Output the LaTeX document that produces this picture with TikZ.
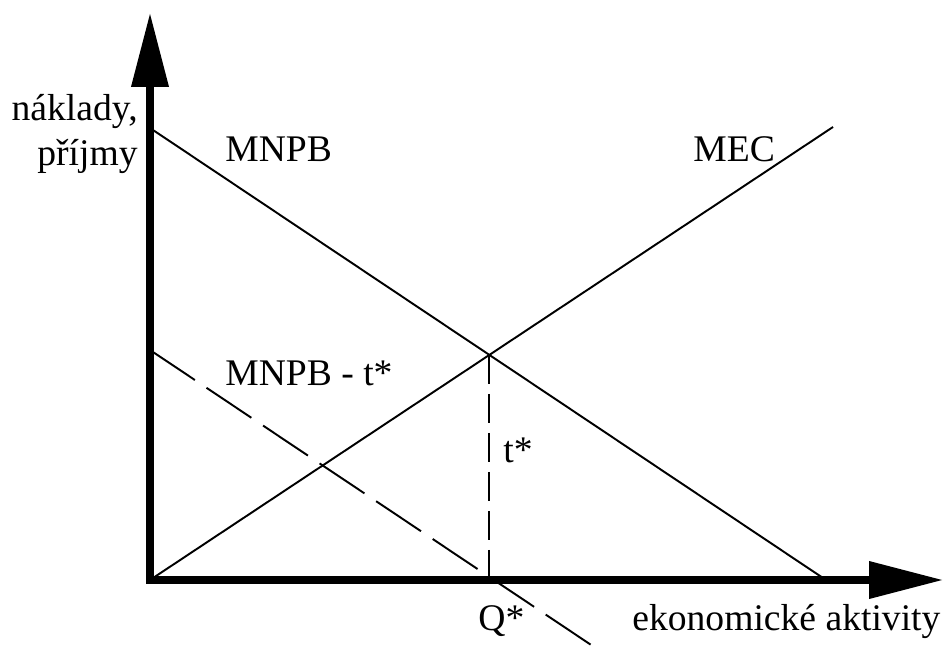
\documentclass[tikz,border=0pt]{standalone}
\usepackage{fontspec}
\setmainfont{Liberation Serif}
\usetikzlibrary{arrows.meta}

\begin{document}
\begin{tikzpicture}[
    axis/.style={line width=4pt, line join=miter,
        {Triangle[length=1.48cm, width=0.72cm]}-{Triangle[length=1.48cm, width=0.72cm]}},
    curve/.style={line width=1.1pt},
    lbl/.style={inner sep=0pt, font=\fontsize{21.4}{25}\selectfont}]
    \useasboundingbox (0,0) rectangle (18.88,12.92);

    % points
    \coordinate (O) at (3.0,1.32);
    \coordinate (ytip) at (3.0,12.66);
    \coordinate (xtip) at (18.86,1.32);
    \coordinate (mnpbL) at (3.0,10.36);
    \coordinate (mnpbR) at (16.52,1.32);
    \coordinate (mecR) at (16.66,10.38);
    \coordinate (taxL) at (3.0,5.92);
    \coordinate (taxR) at (11.854,0);
    \coordinate (E) at (intersection of mnpbL--mnpbR and O--mecR);

    % curves
    \draw[curve] (mnpbL) -- (mnpbR);
    \draw[curve] (O) -- (mecR);
    \draw[curve, dash pattern=on 30.7pt off 8pt] (taxL) -- (taxR);
    \draw[curve, dash pattern=on 16.5pt off 5.7pt] (E) -- (E |- O);

    % axes
    \draw[axis] (ytip) -- (O) -- (xtip);

    % labels
    \node (ylab1) [lbl, anchor=base east] at (2.76,10.5) {náklady,};
    \node (ylab2) [lbl, anchor=base east] at (2.76,9.62) {příjmy};
    \node (mnpb) [lbl, anchor=base west] at (4.5,9.7) {MNPB};
    \node (mec) [lbl, anchor=base west] at (13.86,9.7) {MEC};
    \node (tax) [lbl, anchor=base west] at (4.5,5.22) {MNPB - t*};
    \node (t) [lbl, anchor=base west] at (10.06,3.68) {t*};
    \node (q) [lbl, anchor=base west] at (9.56,0.32) {Q*};
    \node (xlab) [lbl, anchor=base west] at (12.64,0.32) {ekonomické aktivity};
\end{tikzpicture}
\end{document}
